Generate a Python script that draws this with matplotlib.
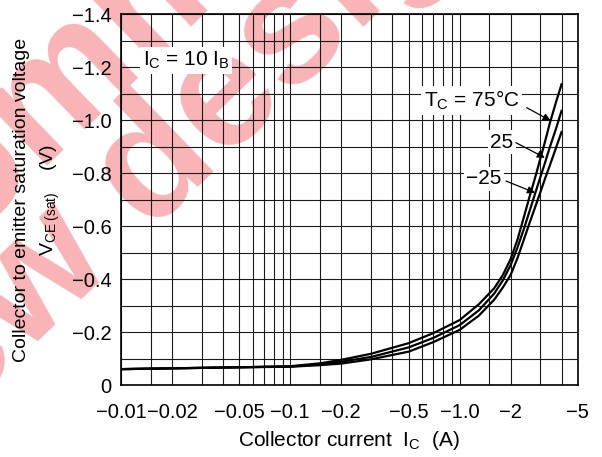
import numpy as np
import matplotlib
matplotlib.use('Agg')  # no display
import matplotlib.pyplot as plt

plt.rcParams['font.family'] = ['Liberation Sans', 'DejaVu Sans']
plt.rcParams['mathtext.fontset'] = 'custom'
plt.rcParams['mathtext.rm'] = 'Liberation Sans'
plt.rcParams['mathtext.it'] = 'Liberation Sans:italic'
plt.rcParams['mathtext.bf'] = 'Liberation Sans:bold'

# Collector current (A) and V_CE(sat) (V), I_C = 10 I_B
ic = [-0.01, -0.02, -0.05, -0.1, -0.15, -0.2, -0.3, -0.5, -0.7, -1.0, -1.3, -1.6,
      -1.8, -2.0, -2.2, -2.4, -2.6, -2.8, -3.0, -3.2, -3.4, -3.7, -4.0]
vce_75 = [-0.060, -0.063, -0.067, -0.071, -0.082, -0.095, -0.118, -0.158, -0.196, -0.245, -0.305, -0.365,
          -0.415, -0.475, -0.55, -0.635, -0.715, -0.785, -0.855, -0.92, -0.985, -1.065, -1.135]
vce_25 = [-0.060, -0.063, -0.067, -0.070, -0.078, -0.088, -0.106, -0.142, -0.178, -0.226, -0.282, -0.345,
          -0.395, -0.452, -0.52, -0.59, -0.66, -0.725, -0.785, -0.84, -0.895, -0.965, -1.035]
vce_m25 = [-0.060, -0.063, -0.067, -0.069, -0.075, -0.081, -0.097, -0.126, -0.162, -0.208, -0.262, -0.322,
           -0.368, -0.415, -0.48, -0.55, -0.615, -0.673, -0.728, -0.78, -0.826, -0.893, -0.955]

x_ticks = [-0.01, -0.02, -0.05, -0.1, -0.2, -0.5, -1.0, -2, -5]
x_ticklabels = ['\u22120.01', '\u22120.02', '\u22120.05', '\u22120.1', '\u22120.2',
                '\u22120.5', '\u22121.0', '\u22122', '\u22125']
y_ticks = [0, -0.2, -0.4, -0.6, -0.8, -1.0, -1.2, -1.4]
y_ticklabels = ['0', '\u22120.2', '\u22120.4', '\u22120.6', '\u22120.8', '\u22121.0', '\u22121.2', '\u22121.4']

fig = plt.figure(figsize=(6.02, 4.57), dpi=100, facecolor='white')
ax = fig.add_axes([0.201, 0.1575, 0.759, 0.8115])
ax.patch.set_alpha(0)

# pink watermark behind everything
wm = dict(fontsize=120, fontweight='bold', color='#f8b4b6', rotation=44,
          rotation_mode='anchor', ha='center', va='center_baseline', zorder=-1)
fig.text(0.062, 0.800, 'Not recommended', **wm)
fig.text(0.117, 0.505, 'for new design', **wm)

ax.set_xscale('log')
ax.set_xlim(0.01, 5)
ax.set_ylim(0, -1.4)

# grid: 1, 1.5, 2, 3 ... 9 in every decade, 0.1 V steps
x_grid = [m * d for d in (0.01, 0.1, 1) for m in (1, 1.5, 2, 3, 4, 5, 6, 7, 8, 9) if m * d <= 5]
ax.set_xticks(np.abs(x_ticks))
ax.set_xticklabels(x_ticklabels)
ax.set_xticks(x_grid, minor=True)
ax.set_xticklabels([], minor=True)
ax.set_yticks(y_ticks)
ax.set_yticklabels(y_ticklabels)
ax.set_yticks(np.arange(0, -1.41, -0.1), minor=True)
ax.grid(True, which='both', color='#1a1a1a', linewidth=0.8)
ax.tick_params(which='both', length=0, labelsize=14.5)
ax.tick_params(axis='x', pad=13)
ax.tick_params(axis='y', pad=7)
for s in ax.spines.values():
    s.set_linewidth(1.2)

for v in (vce_75, vce_25, vce_m25):
    ax.plot(np.abs(ic), v, color='black', linewidth=1.6, zorder=3)

fs = 15
box = dict(boxstyle='square,pad=0.12', facecolor='white', edgecolor='none')
ax.text(0.0242, -1.225, 'I$_\\mathrm{C}$ = 10 I$_\\mathrm{B}$', fontsize=fs,
        ha='center', va='center', bbox=box, zorder=4)

arrow = dict(arrowstyle='-|>', color='black', lw=0.9, mutation_scale=11, shrinkA=0, shrinkB=0)
ax.text(1.18, -1.074, 'T$_\\mathrm{C}$ = 75\u00b0C', fontsize=fs, ha='center', va='center', bbox=box, zorder=4)
ax.annotate('', xy=(3.45, -0.998), xytext=(2.49, -1.047), arrowprops=arrow, zorder=4)
ax.text(1.78, -0.916, '25', fontsize=fs, ha='center', va='center', bbox=box, zorder=4)
ax.annotate('', xy=(3.19, -0.858), xytext=(2.15, -0.915), arrowprops=arrow, zorder=4)
ax.text(1.39, -0.778, '\u221225', fontsize=fs, ha='center', va='center', bbox=box, zorder=4)
ax.annotate('', xy=(2.79, -0.726), xytext=(1.88, -0.770), arrowprops=arrow, zorder=4)

fig.text(0.035, 0.5635, 'Collector to emitter saturation voltage', rotation=90,
         ha='center', va='center', fontsize=14)
fig.text(0.084, 0.5635, 'V$_{\\mathrm{CE\\ (sat)}}$    (V)', rotation=90,
         ha='center', va='center', fontsize=14)
fig.text(0.5805, 0.037, 'Collector current  I$_\\mathrm{C}$  (A)', ha='center', va='center', fontsize=15)

fig.savefig('out.png', dpi=100)
